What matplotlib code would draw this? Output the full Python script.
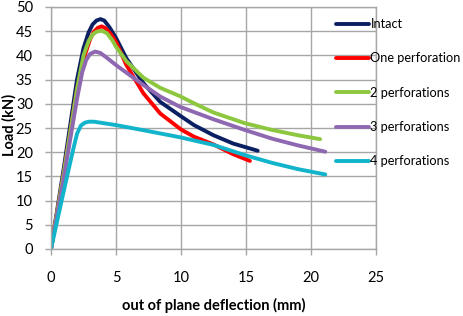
import matplotlib
matplotlib.use("Agg")
import matplotlib.pyplot as plt

# Data
intact_x = [0, 1.0, 2.0, 2.5, 2.9, 3.2, 3.5, 3.8, 4.1, 4.5, 5.0, 5.8, 7.1, 8.4, 9.9, 11.0, 12.5, 14.0, 15.9]
intact_y = [0, 17, 35, 41.5, 44.8, 46.4, 47.2, 47.5, 47.2, 45.8, 43.6, 39.4, 34.3, 30.4, 27.6, 25.6, 23.5, 21.8, 20.3]

one_x = [0, 1.0, 2.0, 2.6, 3.0, 3.3, 3.6, 3.9, 4.2, 4.6, 5.0, 5.8, 7.1, 8.4, 10.0, 11.0, 12.5, 14.0, 15.3]
one_y = [0, 16, 33, 40, 43.3, 44.9, 45.7, 46.0, 45.6, 44.4, 42.8, 38.0, 32.2, 28.0, 24.7, 23.2, 21.6, 19.6, 18.2]

two_x = [0, 1.0, 2.0, 2.5, 2.9, 3.2, 3.5, 3.9, 4.3, 4.7, 5.0, 5.8, 7.1, 8.4, 9.9, 11.0, 12.5, 14.9, 17.0, 19.0, 20.7]
two_y = [0, 16, 33, 40, 43.0, 44.3, 44.9, 45.1, 44.6, 43.2, 41.8, 38.8, 35.4, 33.3, 31.6, 30.1, 28.2, 26.0, 24.6, 23.5, 22.7]

three_x = [0, 1.0, 2.0, 2.4, 2.7, 3.0, 3.4, 3.8, 4.3, 5.0, 7.1, 8.4, 9.9, 12.5, 14.9, 17.0, 19.0, 21.1]
three_y = [0, 15, 31, 36.5, 39.0, 40.3, 40.8, 40.5, 39.5, 38.0, 33.9, 31.5, 29.4, 26.8, 24.6, 22.8, 21.4, 20.1]

four_x = [0, 0.9, 1.7, 2.0, 2.3, 2.6, 2.9, 3.3, 3.8, 5.0, 7.0, 9.9, 12.5, 14.9, 17.0, 19.0, 21.1]
four_y = [0, 11, 20.5, 23.8, 25.5, 26.1, 26.3, 26.3, 26.1, 25.6, 24.6, 23.1, 21.5, 19.4, 17.8, 16.5, 15.4]

labels = ["Intact", "One perforation", "2 perforations", "3 perforations", "4 perforations"]
colors = ["#0B1F63", "#FF0000", "#8DC63F", "#8E68B0", "#12B4CC"]

x_ticks = [0, 5, 10, 15, 20, 25]
y_ticks = [0, 5, 10, 15, 20, 25, 30, 35, 40, 45, 50]

plt.rcParams['font.family'] = ['Lato', 'DejaVu Sans']

fig = plt.figure(figsize=(4.64, 3.16), dpi=100)
ax = fig.add_axes([51/464, 1 - 249/316, (376 - 51)/464, (249 - 7)/316])

series = [(intact_x, intact_y), (one_x, one_y), (two_x, two_y), (three_x, three_y), (four_x, four_y)]
for (xs, ys), lab, c in zip(series, labels, colors):
    ax.plot(xs, ys, color=c, lw=2.8, label=lab, solid_capstyle='round', solid_joinstyle='round')

ax.set_xlim(0, 25)
ax.set_ylim(0, 50)
ax.set_xticks(x_ticks)
ax.set_yticks(y_ticks)
ax.grid(True, color="#A6A6A6", lw=1.0)
ax.set_axisbelow(True)
for s in ax.spines.values():
    s.set_color("#A6A6A6")
    s.set_linewidth(1.0)
ax.tick_params(axis='both', colors="#A6A6A6", labelcolor="black", labelsize=10.5, length=4, width=1.0)
ax.tick_params(axis='x', pad=12)
ax.tick_params(axis='y', pad=9)

ax.set_xlabel("out of plane deflection (mm)", fontsize=10.5, fontweight='bold')
ax.set_ylabel("Load (kN)", fontsize=10.5, fontweight='bold')
ax.xaxis.set_label_coords(0.5, (249 - 305) / 242)
ax.xaxis.label.set_va('center')
ax.yaxis.set_label_coords((9 - 51) / 325, (249 - 125) / 242)
ax.yaxis.label.set_va('center')

leg = ax.legend(loc='upper left', bbox_to_anchor=(336/464, 1 - 18/316), bbox_transform=fig.transFigure,
                frameon=False, fontsize=9.2, handlelength=2.55, handletextpad=0.15,
                labelspacing=1.75, borderpad=0, borderaxespad=0)

fig.savefig("out.png", dpi=100)
